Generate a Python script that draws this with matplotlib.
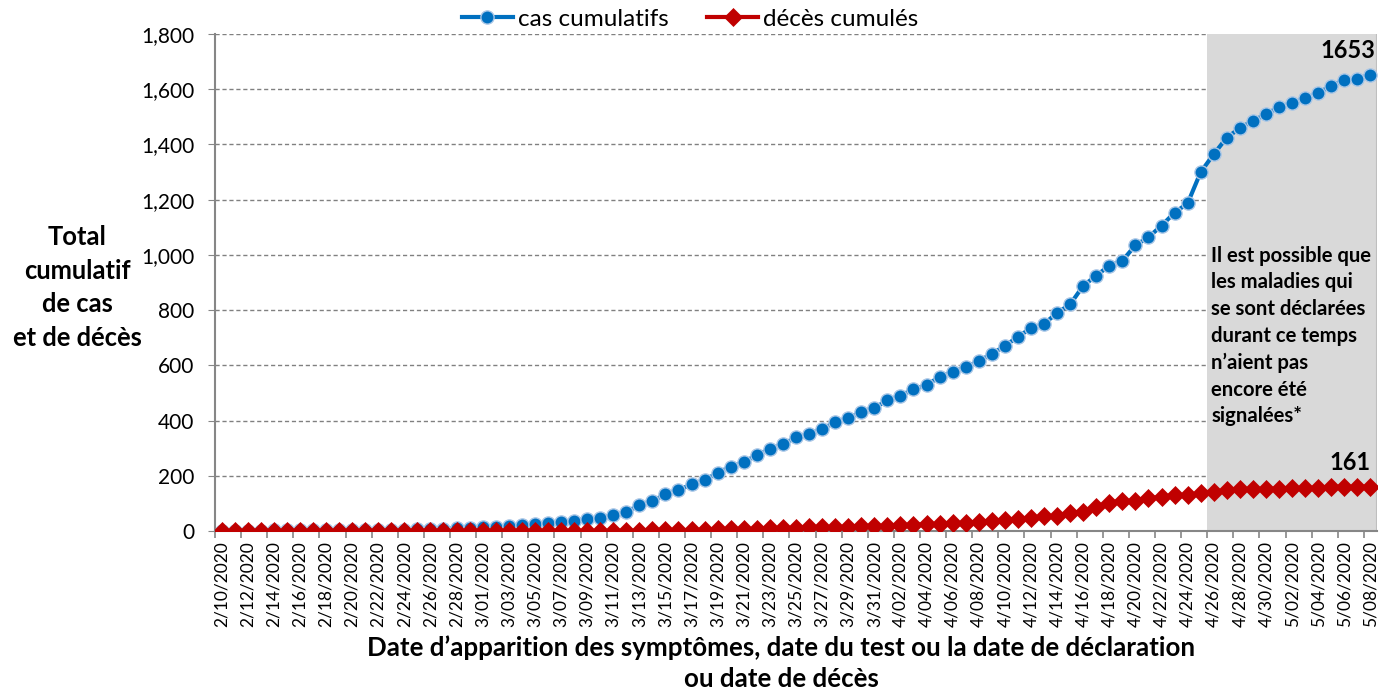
import numpy as np
import pandas as pd
import matplotlib
matplotlib.use("Agg")
import matplotlib.pyplot as plt
from matplotlib.ticker import FixedLocator, FuncFormatter

plt.rcParams['font.family'] = ['Lato', 'DejaVu Sans']

# dates 2/10/2020 .. 5/08/2020
dates = pd.date_range("2020-02-10", "2020-05-08", freq="D")
date_labels = [f"{d.month}/{d.day:02d}/{d.year}" for d in dates]

cas_cumulatifs = [
    1, 1, 1, 1, 2, 2, 2, 2, 2, 2, 3, 3,
    3, 4, 5, 6, 7, 8, 10, 11, 13, 15, 18, 21,
    25, 30, 34, 38, 44, 49, 57, 69, 94, 107, 135, 148, 169, 184,
    211, 233, 249, 276, 297, 315, 339, 352, 369, 395, 408, 432, 446,
    473, 490, 514, 528, 559, 576, 594, 615, 642, 670, 704, 734, 750,
    790, 821, 888, 925, 961, 979, 1035, 1064, 1106, 1153, 1187,
    1300, 1365, 1425, 1459, 1486, 1509, 1536, 1550, 1567, 1586,
    1613, 1633, 1638, 1653,
]
deces_cumules = [0] * 31 + [
    1, 1, 2, 2, 3, 3, 4, 6, 7, 7, 7, 10, 10, 12, 13, 13, 13, 16, 18, 18,
    19, 22, 22, 25, 25, 28, 30, 34, 37, 40, 43, 46, 54, 54, 66, 70, 88,
    103, 109, 109, 118, 124, 130, 130, 136, 142, 148, 151, 151, 153, 153,
    155, 155, 157, 160, 160, 160, 161,
]

note = ("Il est possible que\nles maladies qui\nse sont déclarées\n"
        "durant ce temps\nn’aient pas\nencore été\nsignalées*")

x = np.arange(len(dates))
n = len(x)

fig = plt.figure(figsize=(13.8, 6.91), dpi=100)
ax = fig.add_axes([0.1558, 0.2315, 0.8420, 0.7193])

ax.axvspan(75.5, n - 0.5, color="#d9d9d9", zorder=1, lw=0)
ax.axvline(n - 0.5, color="#bfbfbf", lw=1.5, zorder=1)

ax.plot(x, cas_cumulatifs, color="#0070c0", lw=3, marker="o", ms=9.5,
        mfc="#0070c0", mec="#a9c6e6", mew=1.0, zorder=3, label="cas cumulatifs")
ax.plot(x, deces_cumules, color="#c00000", lw=3, marker="D", ms=9,
        mfc="#c00000", mec="#c00000", mew=0.5, zorder=4, label="décès cumulés")

ax.set_xlim(-0.5, n - 0.5)
ax.set_ylim(0, 1800)
ax.set_yticks(np.arange(0, 1801, 200))
ax.yaxis.set_major_formatter(FuncFormatter(lambda v, p: f"{v:,.0f}"))
ax.grid(axis="y", color="#808080", ls=(0, (3, 2)), lw=1)
ax.set_axisbelow(True)

ax.set_xticks(x[::2])
ax.set_xticklabels(date_labels[::2], rotation=90)
ax.xaxis.set_minor_locator(FixedLocator(np.arange(-0.5, n, 2)))
ax.tick_params(axis="x", which="major", length=0, labelsize=12.5, pad=7)
ax.tick_params(axis="x", which="minor", length=5, color="#868686", width=1.2)
ax.tick_params(axis="y", length=5, color="#868686", labelsize=15, pad=10)

for s in ["top", "right"]:
    ax.spines[s].set_visible(False)
for s in ["left", "bottom"]:
    ax.spines[s].set_color("#868686")
    ax.spines[s].set_linewidth(1.5)

ax.set_ylabel("Total\ncumulatif\nde cas\net de décès", rotation=0, fontsize=18.4,
              fontweight="bold", ha="center", va="center", linespacing=1.48)
ax.yaxis.set_label_coords(-0.1188, 0.49)
ax.set_xlabel("Date d’apparition des symptômes, date du test ou la date de déclaration\n"
              "ou date de décès", fontsize=18.6, fontweight="bold", linespacing=1.38,
              va="top")
ax.xaxis.set_label_coords(0.4875, -0.209)

ax.annotate(f"{cas_cumulatifs[-1]}", xy=(x[-1], cas_cumulatifs[-1]), xytext=(3.6, 17),
            textcoords="offset points", ha="right", va="center",
            fontsize=17, fontweight="bold")
ax.annotate(f"{deces_cumules[-1]}", xy=(x[-1], deces_cumules[-1]), xytext=(0, 17.6),
            textcoords="offset points", ha="right", va="center",
            fontsize=17, fontweight="bold")
ax.text(75.8, 1034, note, ha="left", va="top", fontsize=14.6, fontweight="bold",
        linespacing=1.42, zorder=5)

fig.legend(loc="center", bbox_to_anchor=(0.5, 0.972), ncol=2, frameon=False,
           fontsize=17.5, handlelength=2.1, handletextpad=0.2, columnspacing=1.6)

fig.savefig("out.png", dpi=100)
